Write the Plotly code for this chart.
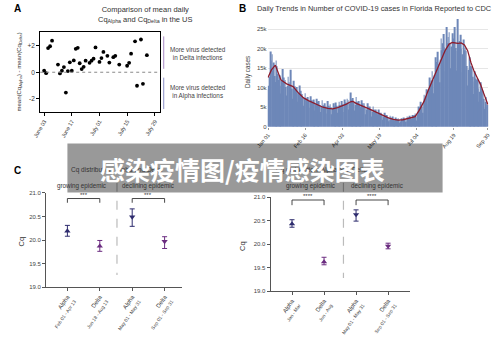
import plotly.graph_objects as go
import pandas as pd

W, H = 500, 337
def px(x): return x / W
def py(y): return 1 - y / H

FONT = "Liberation Sans, Arial, sans-serif"

# ---------------- Panel A data ----------------
a_dates = ["2021-06-03", "2021-06-04", "2021-06-05", "2021-06-06", "2021-06-07",
           "2021-06-10", "2021-06-11", "2021-06-12", "2021-06-13", "2021-06-14",
           "2021-06-15", "2021-06-16", "2021-06-17", "2021-06-18", "2021-06-19",
           "2021-06-20", "2021-06-21", "2021-06-22", "2021-06-23", "2021-06-24",
           "2021-06-26", "2021-06-27", "2021-06-28", "2021-06-29", "2021-07-01",
           "2021-07-02", "2021-07-03", "2021-07-05", "2021-07-06", "2021-07-08",
           "2021-07-09", "2021-07-11", "2021-07-15", "2021-07-16", "2021-07-17",
           "2021-07-19", "2021-07-20", "2021-07-22", "2021-07-23", "2021-07-25"]
a_diff = [0.12, -0.07, 1.82, 1.96, 2.38,
          0.58, -0.09, 0.12, 0.39, -1.53,
          0.09, 0.75, 0.12, 0.89, 1.77,
          1.84, 0.68, 0.24, 0.41, 0.87,
          0.71, 0.87, 1.02, 1.87, 0.78,
          1.07, 1.53, 1.24, 0.73, 1.14,
          1.24, 0.58, 0.49, 0.71, 1.40,
          2.33, -1.02, 2.47, -0.87, 1.29]
a_tickvals = ["2021-06-03", "2021-06-17", "2021-07-01", "2021-07-15", "2021-07-29"]
a_ticktext = ["June 03", "June 17", "July 01", "July 15", "July 29"]

# ---------------- Panel B data ----------------
b_start, b_end = "2021-01-01", "2021-09-30"
b_cases_k = [
    9.6, 10.5, 12.8, 19.3, 17.0, 18.6, 14.5,
    16.5, 13.0, 11.5, 17.0, 15.5, 13.5, 12.0,
    13.2, 10.5, 8.5, 11.8, 14.8, 12.6, 11.2,
    12.0, 10.2, 8.0, 10.5, 12.8, 11.4, 10.6,
    14.6, 9.8, 7.2, 9.6, 11.8, 10.4, 9.4,
    10.2, 8.6, 6.4, 8.8, 10.6, 9.2, 8.0,
    8.4, 7.6, 5.4, 7.2, 8.6, 7.4, 6.8,
    7.6, 6.6, 4.8, 6.4, 7.8, 6.8, 6.2,
    7.0, 6.2, 4.2, 5.8, 7.2, 6.4, 5.8,
    6.6, 5.6, 3.8, 5.2, 6.8, 5.6, 5.4,
    6.0, 5.2, 3.4, 4.8, 6.6, 5.4, 5.0,
    5.8, 5.0, 3.2, 4.6, 6.0, 5.2, 4.8,
    6.2, 5.4, 3.6, 4.8, 6.4, 5.6, 5.4,
    6.6, 5.8, 3.8, 5.2, 7.0, 6.2, 6.0,
    7.2, 6.8, 4.4, 6.0, 8.8, 7.0, 6.6,
    7.4, 6.2, 4.2, 5.6, 7.6, 6.4, 6.2,
    6.6, 5.6, 3.8, 5.0, 6.8, 6.0, 5.4,
    6.0, 5.0, 3.2, 4.4, 6.0, 5.2, 4.8,
    5.2, 4.4, 2.6, 3.8, 5.2, 4.4, 4.0,
    4.4, 3.6, 2.2, 3.2, 4.4, 3.6, 3.4,
    3.6, 3.0, 1.8, 2.6, 3.6, 3.0, 2.8,
    3.0, 2.4, 1.4, 1.8, 2.8, 2.4, 2.2,
    2.6, 2.0, 1.2, 1.6, 2.4, 2.0, 1.8,
    2.2, 1.8, 1.0, 1.4, 2.2, 1.9, 1.8,
    2.4, 2.0, 1.2, 1.6, 2.6, 2.2, 2.4,
    2.8, 2.4, 1.4, 2.0, 3.0, 2.8, 3.0,
    3.4, 2.6, 1.6, 3.2, 5.2, 4.6, 5.0,
    6.4, 5.2, 3.6, 6.0, 8.2, 7.2, 7.8,
    9.6, 8.2, 5.8, 9.4, 12.6, 11.0, 11.8,
    14.2, 12.0, 8.6, 13.2, 17.8, 15.4, 16.6,
    19.2, 16.0, 11.4, 17.2, 22.6, 19.6, 21.4,
    23.8, 20.4, 14.2, 20.0, 25.6, 21.4, 23.0,
    24.2, 21.2, 15.0, 20.6, 24.0, 21.0, 22.6,
    25.6, 20.2, 14.4, 19.4, 27.6, 21.2, 22.0,
    23.6, 20.0, 14.0, 18.6, 22.4, 19.6, 20.2,
    19.4, 15.6, 10.6, 14.6, 17.8, 15.4, 15.6,
    15.4, 12.8, 8.4, 11.6, 14.2, 12.4, 12.0,
    12.2, 9.8, 6.4, 9.0, 11.4, 9.8, 9.4,
    9.2, 7.2, 4.6, 6.4, 7.6, 5.0, 5.6,
]
b_dates = pd.date_range(b_start, b_end, freq="D")
b_cases = [v * 1000 for v in b_cases_k]

b_avg_dates = ["2021-01-01", "2021-01-05", "2021-01-10", "2021-01-13", "2021-01-17",
               "2021-01-24", "2021-02-01", "2021-02-07", "2021-02-14", "2021-02-20",
               "2021-02-26", "2021-03-04", "2021-03-10", "2021-03-16", "2021-03-22",
               "2021-03-28", "2021-04-03", "2021-04-08", "2021-04-13", "2021-04-16",
               "2021-04-20", "2021-04-25", "2021-04-30", "2021-05-06", "2021-05-12",
               "2021-05-18", "2021-05-24", "2021-05-30", "2021-06-05", "2021-06-11",
               "2021-06-17", "2021-06-21", "2021-06-25", "2021-07-02", "2021-07-07",
               "2021-07-13", "2021-07-18", "2021-07-24", "2021-07-29", "2021-08-03",
               "2021-08-08", "2021-08-13", "2021-08-17", "2021-08-24", "2021-08-28",
               "2021-09-01", "2021-09-05", "2021-09-09", "2021-09-13", "2021-09-17",
               "2021-09-21", "2021-09-25", "2021-09-30"]
b_avg_k = [12.6, 14.5, 15.8, 14.2, 12.0,
           11.0, 10.3, 8.8, 7.4, 6.7,
           6.1, 5.6, 5.0, 4.7, 4.6,
           4.9, 5.3, 5.8, 6.4, 6.5,
           6.0, 5.6, 5.2, 4.6, 4.0,
           3.4, 2.8, 2.3, 1.9, 1.7,
           1.8, 2.0, 2.3, 2.6, 4.2,
           6.5, 9.2, 12.2, 15.0, 17.5,
           19.5, 21.2, 21.6, 21.4, 21.5,
           21.0, 19.5, 16.5, 14.2, 12.5,
           10.8, 8.5, 5.7]
b_avg = [v * 1000 for v in b_avg_k]
b_tickvals = ["2021-01-01", "2021-02-16", "2021-04-03", "2021-05-19",
              "2021-07-04", "2021-08-19", "2021-09-30"]
b_ticktext = ["Jan 01", "Feb 16", "Apr 03", "May 19", "Jul 04", "Aug 19", "Sep 30"]
b_yvals = [0, 5000, 10000, 15000, 20000, 25000]
b_ytext = ["0", "5k", "10k", "15k", "20k", "25k"]

# ---------------- Panel C data ----------------
c_pos_alpha = [0, 2]
c_pos_delta = [1, 3]
c1_alpha = [20.19, 20.49]; c1_alpha_hi = [20.31, 20.66]; c1_alpha_lo = [20.08, 20.29]
c1_delta = [19.87, 19.97]; c1_delta_hi = [19.99, 20.07]; c1_delta_lo = [19.76, 19.82]
c2_alpha = [20.43, 20.63]; c2_alpha_hi = [20.52, 20.73]; c2_alpha_lo = [20.36, 20.49]
c2_delta = [19.62, 19.96]; c2_delta_hi = [19.72, 20.02]; c2_delta_lo = [19.56, 19.90]
c1_labels = [("Alpha", "Feb 01 - Apr 13"), ("Delta", "Jun 18 - Aug 13"),
             ("Alpha", "May 01 - May 31"), ("Delta", "Sep 01 - Sep 31")]
c2_labels = [("Alpha", "Jan - Mar"), ("Delta", "Jun - Aug"),
             ("Alpha", "May 01 - May 31"), ("Delta", "Sep 01 - Sep 31")]
c_yvals = [19.0, 19.5, 20.0, 20.5, 21.0]
c_ytext = ["19.0", "19.5", "20.0", "20.5", "21.0"]

NAVY = "#2e2c6e"
PURP = "#6b2c80"

fig = go.Figure()

# Panel A
fig.add_trace(go.Scatter(x=a_dates, y=a_diff, mode="markers",
                         marker=dict(color="black", size=3.8),
                         xaxis="x", yaxis="y", hoverinfo="skip"))

# Panel B
fig.add_trace(go.Bar(x=b_dates, y=b_cases, marker=dict(color="#6e87b8", line=dict(width=0)),
                     xaxis="x2", yaxis="y2", hoverinfo="skip"))
fig.add_trace(go.Scatter(x=b_avg_dates, y=b_avg, mode="lines",
                         line=dict(color="#8c1c2c", width=1.3),
                         xaxis="x2", yaxis="y2", hoverinfo="skip"))

# Panel C
def err(vals, hi, lo):
    return dict(type="data", symmetric=False,
                array=[h - v for v, h in zip(vals, hi)],
                arrayminus=[v - l for v, l in zip(vals, lo)],
                thickness=1, width=2.5)

for xa, ya, al, alh, all_, de, deh, del_ in [
        ("x3", "y3", c1_alpha, c1_alpha_hi, c1_alpha_lo, c1_delta, c1_delta_hi, c1_delta_lo),
        ("x4", "y4", c2_alpha, c2_alpha_hi, c2_alpha_lo, c2_delta, c2_delta_hi, c2_delta_lo)]:
    e = err(al, alh, all_); e["color"] = NAVY
    fig.add_trace(go.Scatter(x=c_pos_alpha, y=al, mode="markers", error_y=e,
                             marker=dict(color=NAVY, size=5.5,
                                         symbol=["triangle-up", "triangle-down"]),
                             xaxis=xa, yaxis=ya, hoverinfo="skip"))
    e = err(de, deh, del_); e["color"] = PURP
    fig.add_trace(go.Scatter(x=c_pos_delta, y=de, mode="markers", error_y=e,
                             marker=dict(color=PURP, size=5.5,
                                         symbol=["triangle-up", "triangle-down"]),
                             xaxis=xa, yaxis=ya, hoverinfo="skip"))

def cat_text(labels):
    return [f"{a}<br><span style='font-size:4.8px;color:#444'>{b}</span>" for a, b in labels]

tickfont = dict(family=FONT, size=6, color="#444")
cattickfont = dict(family=FONT, size=6, color="#444")

layout = dict(
    width=W, height=H, margin=dict(l=0, r=0, t=0, b=0),
    paper_bgcolor="white", plot_bgcolor="white", showlegend=False,
    font=dict(family=FONT, color="#333"),
    xaxis=dict(domain=[px(29), px(152)], anchor="y", type="date",
               range=["2021-06-01", "2021-07-31 12:00"],
               tickvals=a_tickvals, ticktext=a_ticktext, tickangle=-60,
               tickfont=dict(family=FONT, size=5.5, color="#333"),
               showline=True, linecolor="black", linewidth=1, mirror=True,
               ticks="outside", ticklen=3, tickcolor="black", showgrid=False, zeroline=False),
    yaxis=dict(domain=[py(111), py(30)], anchor="x", range=[-3, 3],
               tickvals=[-2, 0, 2], ticktext=["-2", "0", "+2"],
               tickfont=dict(family=FONT, size=6.5, color="#333"),
               showline=True, linecolor="black", linewidth=1, mirror=True,
               ticks="outside", ticklen=3, tickcolor="black", showgrid=False, zeroline=False),
    xaxis2=dict(domain=[px(263), px(490)], anchor="y2", type="date",
                range=["2020-12-31 12:00", "2021-09-30 12:00"],
                tickvals=b_tickvals, ticktext=b_ticktext, tickangle=-50,
                tickfont=dict(family=FONT, size=5.5, color="#333"),
                showline=False, ticks="outside", ticklen=2, tickcolor="#999",
                showgrid=False, zeroline=False),
    yaxis2=dict(domain=[py(126), py(14.8)], anchor="x2", range=[0, 28000],
                tickvals=b_yvals, ticktext=b_ytext,
                tickfont=dict(family=FONT, size=6, color="#444"),
                showgrid=True, gridcolor="#e6e6e6", gridwidth=1,
                showline=False, zeroline=False, ticks=""),
    xaxis3=dict(domain=[px(35), px(175)], anchor="y3", range=[-0.66, 3.54],
                tickvals=[0, 1, 2, 3], ticktext=cat_text(c1_labels), tickangle=-55,
                tickfont=cattickfont, showline=True, linecolor="#555", linewidth=1,
                ticks="outside", ticklen=3, tickcolor="#555", showgrid=False, zeroline=False),
    yaxis3=dict(domain=[py(289.3), py(193.3)], anchor="x3", range=[19, 21],
                tickvals=c_yvals, ticktext=c_ytext, tickfont=tickfont,
                showline=True, linecolor="#555", linewidth=1,
                ticks="outside", ticklen=3, tickcolor="#555", showgrid=False, zeroline=False),
    xaxis4=dict(domain=[px(266), px(409)], anchor="y4", range=[-0.67, 3.67],
                tickvals=[0, 1, 2, 3], ticktext=cat_text(c2_labels), tickangle=-55,
                tickfont=cattickfont, showline=True, linecolor="#555", linewidth=1,
                ticks="outside", ticklen=3, tickcolor="#555", showgrid=False, zeroline=False),
    yaxis4=dict(domain=[py(293.3), py(197.7)], anchor="x4", range=[19, 21],
                tickvals=c_yvals, ticktext=c_ytext, tickfont=tickfont,
                showline=True, linecolor="#555", linewidth=1,
                ticks="outside", ticklen=3, tickcolor="#555", showgrid=False, zeroline=False),
    bargap=0.12,
)

shapes = []
ann = []

def pann(x, y, text, size=7, color="#333", xanchor="center", yanchor="middle",
         angle=0, bold=False, family=FONT):
    ann.append(dict(x=px(x), y=py(y), xref="paper", yref="paper", text=text,
                    showarrow=False, xanchor=xanchor, yanchor=yanchor, textangle=angle,
                    font=dict(family=family, size=size, color=color,
                              weight=700 if bold else 400)))

# Panel A extras
shapes.append(dict(type="line", xref="x domain", yref="y", x0=0, x1=1, y0=0, y1=0,
                   line=dict(color="#888", width=1, dash="dot")))
shapes.append(dict(type="line", xref="paper", yref="paper", x0=px(156), x1=px(156),
                   y0=py(34), y1=py(67), line=dict(color="#bba3d2", width=1.3)))
shapes.append(dict(type="line", xref="paper", yref="paper", x0=px(156), x1=px(156),
                   y0=py(76), y1=py(108), line=dict(color="#a3a6d2", width=1.3)))
pann(6, 6, "A", size=10, color="black", bold=True)
pann(137, 11.5, "Comparison of mean daily<br>Cq<sub>Alpha</sub> and Cq<sub>Delta</sub> in the US",
     size=7.5, color="#333")
pann(8, 70, "mean(Cq<sub>Alpha</sub>) - mean(Cq<sub>Delta</sub>)", size=6, angle=-90)
pann(161, 51, "More virus detected<br>in Delta infections", size=6.3, xanchor="left", color="#444")
pann(161, 91, "More virus detected<br>in Alpha infections", size=6.3, xanchor="left", color="#444")

# Panel B extras
pann(237, 6, "B", size=10, color="black", bold=True)
pann(250, 6, "Daily Trends in Number of COVID-19 cases in Florida Reported to CDC",
     size=7.4, xanchor="left", color="#333")
pann(243, 70, "Daily cases", size=6.3, angle=-90, color="#444")

# Panel C extras
pann(6, 171, "C", size=10, color="black", bold=True)
pann(108, 170, "Cq distribution: Alpha and Delta", size=6.5, color="#333")
pann(318, 170, "Cq distribution: Alpha and Delta", size=6.5, color="#333")
pann(72, 186.5, "growing epidemic", size=6.3)
pann(140, 186.5, "declining epidemic", size=6.3)
pann(307, 186.5, "growing epidemic", size=6.3)
pann(375, 186.5, "declining epidemic", size=6.3)
pann(10, 243, "Cq", size=7.5, angle=-90)
pann(237, 247, "Cq", size=7.5, angle=-90)

shapes.append(dict(type="line", xref="paper", yref="paper", x0=px(108), x1=px(108),
                   y0=py(183), y1=py(277), line=dict(color="#bbbbbb", width=1.2, dash="dash")))
shapes.append(dict(type="line", xref="paper", yref="paper", x0=px(341), x1=px(341),
                   y0=py(183), y1=py(280), line=dict(color="#bbbbbb", width=1.2, dash="dash")))

for xa, ya, top, bot, stars in [("x3", "y3", 20.88, 20.79, "***"),
                                ("x4", "y4", 20.94, 20.83, "****")]:
    for x0, x1 in [(0, 1), (2, 3)]:
        shapes.append(dict(type="path", xref=xa, yref=ya,
                           path=f"M {x0},{bot} L {x0},{top} L {x1},{top} L {x1},{bot}",
                           line=dict(color="#333", width=0.9)))
        ann.append(dict(x=(x0 + x1) / 2, y=top, xref=xa, yref=ya, text=stars,
                        showarrow=False, yanchor="bottom", yshift=-1,
                        font=dict(family=FONT, size=6, color="#333")))

# Overlay banner
shapes.append(dict(type="rect", xref="paper", yref="paper", layer="above",
                   x0=px(57), x1=px(443), y0=py(193), y1=py(143),
                   fillcolor="rgba(0,0,0,0.4)", line=dict(width=0)))
pann(237.5, 169.5, "感染疫情图/疫情感染图表", size=25, color="white", bold=True,
     family="Noto Sans CJK SC")

layout["shapes"] = shapes
layout["annotations"] = ann
fig.update_layout(**layout)
fig.write_html("out.html")
